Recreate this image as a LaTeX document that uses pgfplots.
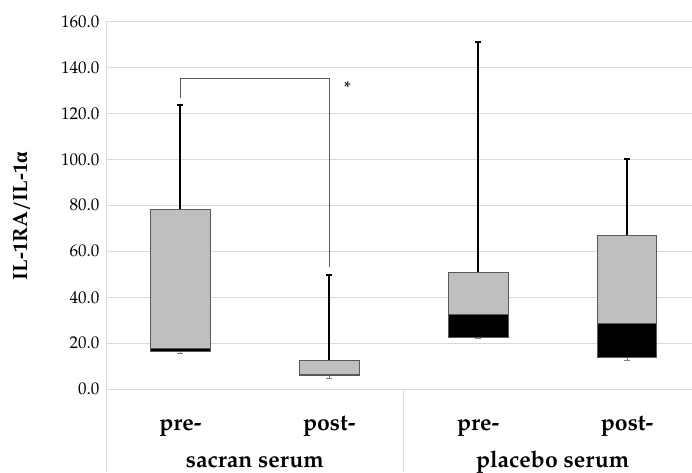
\documentclass[border=0pt]{standalone}
\usepackage{fontspec}
\setmainfont{TeX Gyre Pagella}
\newfontfamily\grk{Liberation Serif}
\usepackage{pgfplots}
\pgfplotsset{compat=1.18}
\definecolor{boxgray}{HTML}{BFBFBF}
\definecolor{gridgray}{HTML}{D9D9D9}
\definecolor{edgegray}{HTML}{595959}
\pgfplotsset{
  lowbox/.style={draw=edgegray, fill=black, line width=0.9pt, mark=none},
  upbox/.style={draw=edgegray, fill=boxgray, line width=0.9pt, mark=none},
  upw/.style={black, line width=2pt, mark=none},
  loww/.style={gray, line width=0.7pt, mark=none},
}
\begin{document}
\begin{tikzpicture}
\begin{axis}[
  scale only axis, width=586pt, height=368pt,
  xmin=-0.5, xmax=3.436, ymin=0, ymax=160,
  ytick={0,20,...,160},
  ymajorgrids, grid style={gridgray, line width=0.9pt},
  axis x line*=bottom, axis y line*=left,
  axis line style={gridgray, line width=0.9pt},
  tick style={draw=none},
  /pgf/number format/assume math mode=true,
  yticklabel style={font=\fontsize{17}{18}\selectfont, xshift=-3pt,
    /pgf/number format/fixed, /pgf/number format/fixed zerofill,
    /pgf/number format/precision=1},
  xtick={0,1,2,3},
  xticklabels={pre-,post-,pre-,post-},
  xticklabel style={font=\bfseries\fontsize{23}{24}\selectfont, anchor=base, yshift=-41pt},
  clip=false,
  ylabel={IL-1RA/IL-1{\grk α}},
  ylabel style={font=\bfseries\fontsize{20.5}{22}\selectfont,
    at={(axis description cs:-0.144,0.471)}, anchor=center},
]
% sacran pre: min 15.6, Q1 16.3, median 17.6, Q3 78.4, max 123.5
\addplot[upw]  coordinates {(0,78.4) (0,123.5)};
\addplot[upw]  coordinates {(-0.02,123.5) (0.02,123.5)};
\addplot[loww] coordinates {(0,16.3) (0,15.6)};
\addplot[loww] coordinates {(-0.02,15.6) (0.02,15.6)};
\addplot[lowbox] coordinates {(-0.2,16.3) (0.2,16.3) (0.2,17.6) (-0.2,17.6)} -- cycle;
\addplot[upbox]  coordinates {(-0.2,17.6) (0.2,17.6) (0.2,78.4) (-0.2,78.4)} -- cycle;
% sacran post: min 4.8, Q1 6.0, median 6.3, Q3 12.7, max 49.7
\addplot[upw]  coordinates {(1,12.7) (1,49.7)};
\addplot[upw]  coordinates {(0.98,49.7) (1.02,49.7)};
\addplot[loww] coordinates {(1,6.0) (1,4.8)};
\addplot[loww] coordinates {(0.98,4.8) (1.02,4.8)};
\addplot[lowbox] coordinates {(0.8,6.0) (1.2,6.0) (1.2,6.3) (0.8,6.3)} -- cycle;
\addplot[upbox]  coordinates {(0.8,6.3) (1.2,6.3) (1.2,12.7) (0.8,12.7)} -- cycle;
% placebo pre: min 22.1, Q1 22.7, median 32.6, Q3 51.0, max 150.9
\addplot[upw]  coordinates {(2,51.0) (2,150.9)};
\addplot[upw]  coordinates {(1.98,150.9) (2.02,150.9)};
\addplot[loww] coordinates {(2,22.7) (2,22.1)};
\addplot[loww] coordinates {(1.98,22.1) (2.02,22.1)};
\addplot[lowbox] coordinates {(1.8,22.7) (2.2,22.7) (2.2,32.6) (1.8,32.6)} -- cycle;
\addplot[upbox]  coordinates {(1.8,32.6) (2.2,32.6) (2.2,51.0) (1.8,51.0)} -- cycle;
% placebo post: min 12.8, Q1 13.9, median 28.8, Q3 67.0, max 100.1
\addplot[upw]  coordinates {(3,67.0) (3,100.1)};
\addplot[upw]  coordinates {(2.98,100.1) (3.02,100.1)};
\addplot[loww] coordinates {(3,13.9) (3,12.8)};
\addplot[loww] coordinates {(2.98,12.8) (3.02,12.8)};
\addplot[lowbox] coordinates {(2.8,13.9) (3.2,13.9) (3.2,28.8) (2.8,28.8)} -- cycle;
\addplot[upbox]  coordinates {(2.8,28.8) (3.2,28.8) (3.2,67.0) (2.8,67.0)} -- cycle;
% significance bracket
\draw[edgegray, line width=0.9pt] (axis cs:0,126.5) -- (axis cs:0,135.2)
  -- (axis cs:1,135.2) -- (axis cs:1,53.3);
\node[font=\fontsize{17}{18}\selectfont] at (axis cs:1.121,131.0) {*};
% category group separators
\draw[gridgray, line width=0.9pt] (axis cs:-0.5,0) -- (axis cs:-0.5,-36);
\draw[gridgray, line width=0.9pt] (axis cs:1.5,0) -- (axis cs:1.5,-36);
\node[font=\bfseries\fontsize{23}{24}\selectfont, anchor=base, yshift=-78pt] at (axis cs:0.5,0) {sacran serum};
\node[font=\bfseries\fontsize{23}{24}\selectfont, anchor=base, yshift=-78pt] at (axis cs:2.5,0) {placebo serum};
\end{axis}
\pgfresetboundingbox
\path (current axis.south west) ++(-106pt,-83pt) coordinate (BBA);
\path (current axis.north east) ++(0pt,21.3pt) coordinate (BBB);
\useasboundingbox (BBA) rectangle (BBB);
\end{tikzpicture}
\end{document}
